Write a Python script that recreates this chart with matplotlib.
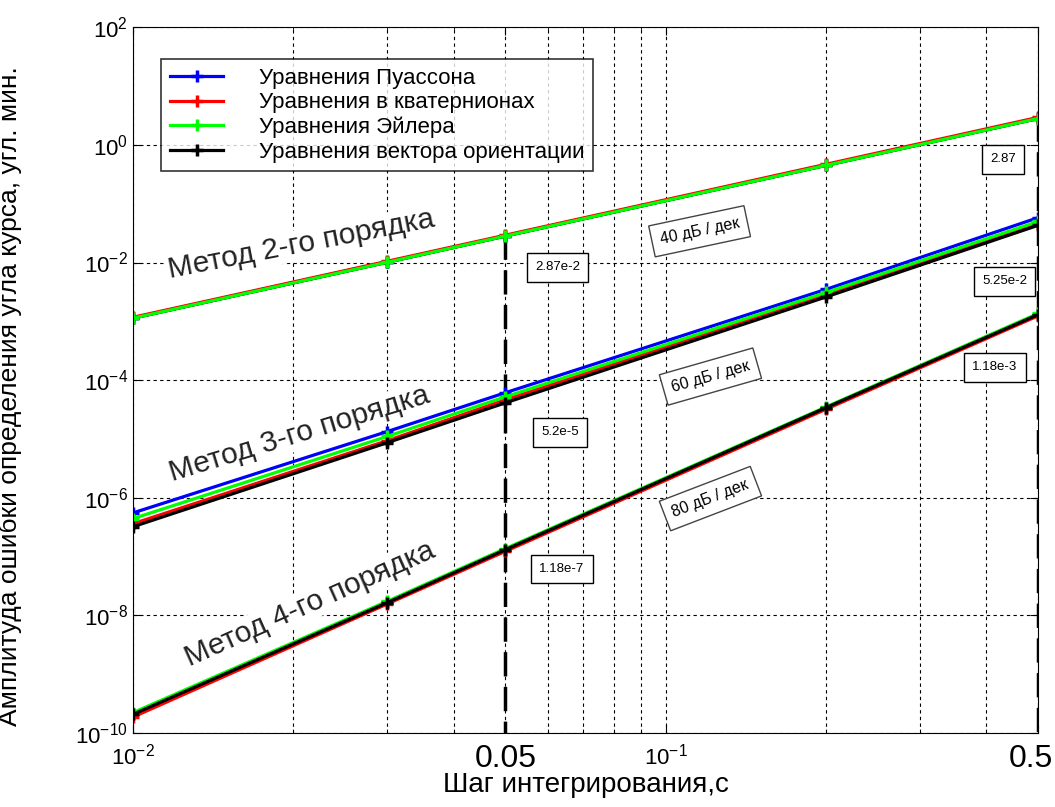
import matplotlib.pyplot as plt
from matplotlib.ticker import FixedLocator, NullFormatter, NullLocator
from matplotlib.transforms import ScaledTranslation

plt.rcParams['font.family'] = ['Liberation Sans', 'DejaVu Sans']

# шаг интегрирования, с
shag = [0.01, 0.03, 0.05, 0.2, 0.5]

metody = ['Уравнения Пуассона', 'Уравнения в кватернионах',
          'Уравнения Эйлера', 'Уравнения вектора ориентации']
cveta = ['#0000ff', '#ff0000', '#00ff00', '#000000']

# метод 2-го порядка
p2_puasson = [1.14e-3, 1.02e-2, 2.84e-2, 0.455, 2.85]
p2_kvat = [1.17e-3, 1.05e-2, 2.92e-2, 0.47, 2.95]
p2_eiler = [1.13e-3, 1.01e-2, 2.82e-2, 0.45, 2.82]
p2_vektor = [1.13e-3, 1.01e-2, 2.82e-2, 0.45, 2.82]

# метод 3-го порядка
p3_puasson = [5.5e-7, 1.33e-5, 6.1e-5, 3.5e-3, 5.8e-2]
p3_kvat = [3.6e-7, 9.3e-6, 4.6e-5, 2.9e-3, 4.6e-2]
p3_eiler = [4.4e-7, 1.1e-5, 5.2e-5, 3.1e-3, 5.0e-2]
p3_vektor = [3.2e-7, 8.6e-6, 4.1e-5, 2.6e-3, 4.3e-2]

# метод 4-го порядка
p4_puasson = [2.05e-10, 1.65e-8, 1.3e-7, 3.4e-5, 1.3e-3]
p4_kvat = [1.85e-10, 1.55e-8, 1.22e-7, 3.2e-5, 1.24e-3]
p4_eiler = [2.2e-10, 1.72e-8, 1.36e-7, 3.5e-5, 1.36e-3]
p4_vektor = [2.05e-10, 1.63e-8, 1.3e-7, 3.4e-5, 1.3e-3]

poryadok2 = [p2_puasson, p2_kvat, p2_eiler, p2_vektor]
poryadok3 = [p3_puasson, p3_kvat, p3_eiler, p3_vektor]
poryadok4 = [p4_puasson, p4_kvat, p4_eiler, p4_vektor]

# подписи: текст, x и y в долях осей, угол
podpisi_metod = [('Метод 2-го порядка', 0.186, 0.692, 11),
                 ('Метод 3-го порядка', 0.184, 0.423, 17),
                 ('Метод 4-го порядка', 0.195, 0.182, 24)]
podpisi_znach = [('2.87e-2', 0.469, 0.660), ('5.2e-5', 0.472, 0.426),
                 ('1.18e-7', 0.474, 0.232), ('2.87', 0.961, 0.813),
                 ('5.25e-2', 0.963, 0.640), ('1.18e-3', 0.952, 0.518)]
podpisi_dek = [('40 дБ / дек', 0.626, 0.711, 12),
               ('60 дБ / дек', 0.638, 0.505, 16),
               ('80 дБ / дек', 0.638, 0.332, 21)]

fig = plt.figure(figsize=(10.55, 8.07), dpi=100)
ax = fig.add_axes([0.126, 0.092, 0.858, 0.874])
ax.set_xscale('log')
ax.set_yscale('log')
ax.set_xlim(0.01, 0.5)
ax.set_ylim(1e-10, 1e2)

# порядок отрисовки как на картинке
for gruppa, poradok_risovki in [(poryadok2, [0, 3, 1, 2]),
                                (poryadok3, [0, 1, 2, 3]),
                                (poryadok4, [0, 1, 2, 3])]:
    for i in poradok_risovki:
        ax.plot(shag, gruppa[i], color=cveta[i], lw=2.3, marker='+',
                ms=9, mew=2.5, label=metody[i] if gruppa is poryadok3 else None)

# вертикальные штриховые линии от значений 2-го порядка
ax.vlines([shag[2], shag[4]], [p2_kvat[2], p2_kvat[4]], 1e-10,
          colors='black', linestyles=(0, (7, 3)), lw=2.5, zorder=1)

ax.tick_params(direction='in', which='both', top=True, right=True)
ax.tick_params(which='major', length=6)
ax.tick_params(which='minor', length=3)
ax.tick_params(axis='x', pad=8)

ax.yaxis.set_major_locator(FixedLocator([1e-10, 1e-8, 1e-6, 1e-4, 1e-2, 1, 1e2]))
ax.yaxis.set_minor_locator(NullLocator())
ax.set_yticklabels([r'$\mathregular{10^{-10}}$', r'$\mathregular{10^{-8}}$',
                    r'$\mathregular{10^{-6}}$', r'$\mathregular{10^{-4}}$',
                    r'$\mathregular{10^{-2}}$', r'$\mathregular{10^{0}}$',
                    r'$\mathregular{10^{2}}$'], fontsize=16)
ax.xaxis.set_major_locator(FixedLocator([0.01, 0.05, 0.1, 0.5]))
ax.xaxis.set_minor_locator(FixedLocator([0.02, 0.03, 0.04, 0.06, 0.07, 0.08,
                                         0.09, 0.2, 0.3, 0.4]))
ax.xaxis.set_minor_formatter(NullFormatter())
ax.set_xticklabels([r'$\mathregular{10^{-2}}$', '0.05',
                    r'$\mathregular{10^{-1}}$', '0.5'])
sdvig = ScaledTranslation(-7 / 100, 0, fig.dpi_scale_trans)
for k, (lab, fs) in enumerate(zip(ax.get_xticklabels(), [16, 23, 16, 23])):
    lab.set_fontsize(fs)
    if k == 3:
        lab.set_transform(lab.get_transform() + sdvig)

ax.grid(True, which='major', axis='y', ls=(0, (3, 3)), color='black', lw=0.8)
ax.grid(True, which='both', axis='x', ls=(0, (3, 3)), color='black', lw=0.8)

ax.set_xlabel('Шаг интегрирования,с', fontsize=20, labelpad=-1)
ax.set_ylabel('Амплитуда ошибки определения угла курса, угл. мин.',
              fontsize=19)
ax.yaxis.set_label_coords(-0.122, 0.477)

for tekst, fx, fy, ugol in podpisi_metod:
    ax.text(fx, fy, tekst, transform=ax.transAxes, fontsize=21.5,
            rotation=ugol, ha='center', va='center', color='#222222',
            bbox=dict(facecolor='white', edgecolor='none', pad=1), zorder=5)
for tekst, fx, fy in podpisi_znach:
    ax.text(fx, fy, tekst, transform=ax.transAxes, fontsize=9.5,
            ha='center', va='center',
            bbox=dict(facecolor='white', edgecolor='black', pad=6, lw=1),
            zorder=6)
for tekst, fx, fy, ugol in podpisi_dek:
    ax.text(fx, fy, tekst, transform=ax.transAxes, fontsize=11.5,
            rotation=ugol, ha='center', va='center',
            bbox=dict(facecolor='white', edgecolor='#444444', pad=6, lw=1),
            zorder=6)

leg = ax.legend(loc='upper left', bbox_to_anchor=(0.031, 0.955), fontsize=16,
                frameon=True, fancybox=False, edgecolor='black',
                handlelength=2.4, borderpad=0.4, labelspacing=0.15,
                handletextpad=1.6, borderaxespad=0)
leg.get_frame().set_linewidth(1.2)
leg.set_zorder(10)

fig.savefig('out.png', dpi=100)
